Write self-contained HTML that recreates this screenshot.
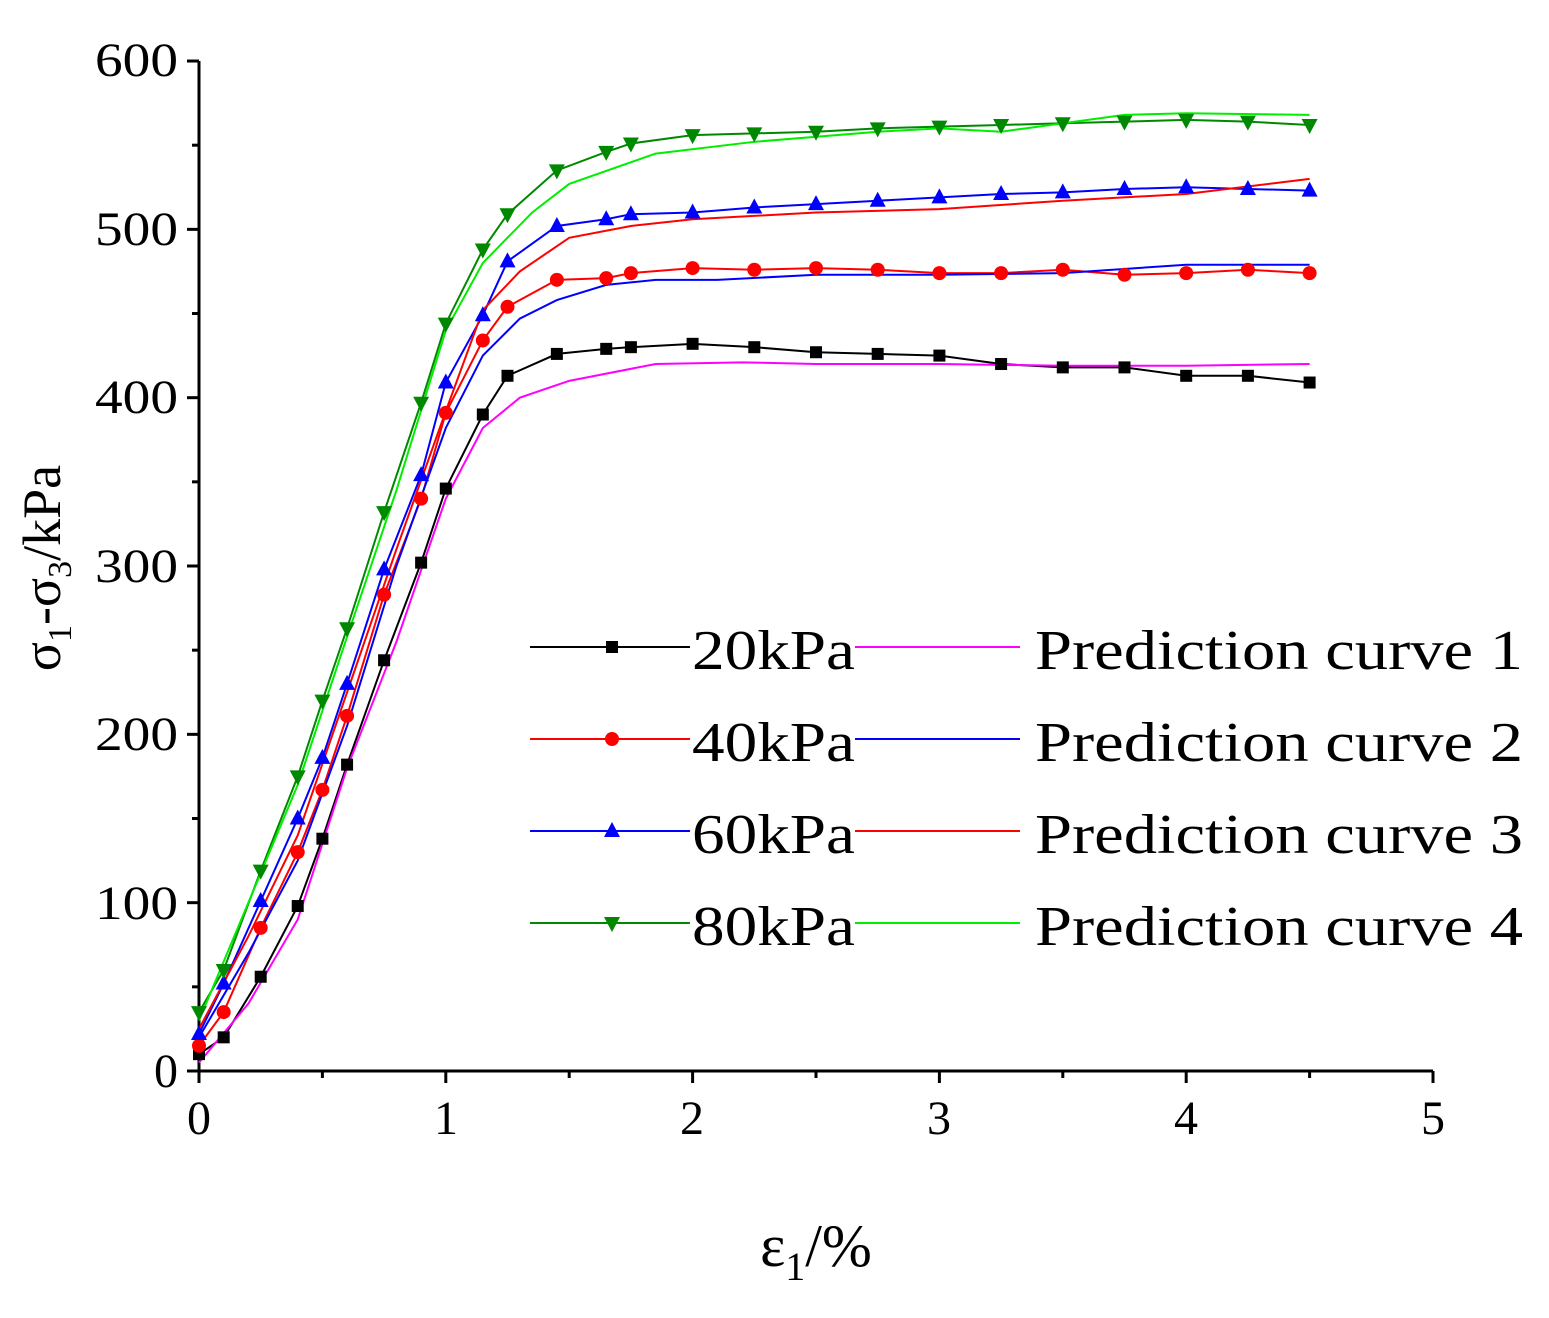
<!DOCTYPE html>
<html><head><meta charset="utf-8">
<style>
html,body{margin:0;padding:0;background:#fff;}
svg{display:block;font-family:"Liberation Serif",serif;}
</style></head>
<body>
<svg id="c" width="1549" height="1318" viewBox="0 0 1549 1318" xmlns="http://www.w3.org/2000/svg">
<g stroke="#000" stroke-width="3" fill="none">
<line x1="199" y1="61" x2="199" y2="1071"/>
<line x1="199" y1="1071" x2="1433" y2="1071"/>
</g>
<g id="ticks" stroke="#000" stroke-width="3"></g>
<g font-size="48" fill="#000" text-anchor="end">
<text x="178" y="1087">0</text>
<text x="178" y="919" textLength="83" lengthAdjust="spacingAndGlyphs">100</text>
<text x="178" y="750" textLength="83" lengthAdjust="spacingAndGlyphs">200</text>
<text x="178" y="582" textLength="83" lengthAdjust="spacingAndGlyphs">300</text>
<text x="178" y="413" textLength="83" lengthAdjust="spacingAndGlyphs">400</text>
<text x="178" y="245" textLength="83" lengthAdjust="spacingAndGlyphs">500</text>
<text x="178" y="76" textLength="83" lengthAdjust="spacingAndGlyphs">600</text>
</g>
<g font-size="48" fill="#000" text-anchor="middle">
<text x="199" y="1134">0</text>
<text x="446" y="1134">1</text>
<text x="692" y="1134">2</text>
<text x="939" y="1134">3</text>
<text x="1186" y="1134">4</text>
<text x="1433" y="1134">5</text>
</g>
<text x="816" y="1266" font-size="60" text-anchor="middle">ε<tspan font-size="40" dy="14">1</tspan><tspan dy="-14">/%</tspan></text>
<text transform="translate(60,568) rotate(-90)" font-size="54" text-anchor="middle">σ<tspan font-size="34" dy="11">1</tspan><tspan dy="-11">-σ</tspan><tspan font-size="34" dy="11">3</tspan><tspan dy="-11">/kPa</tspan></text>
<g id="series"></g>
<g id="legend" font-size="56" fill="#000"></g>
</svg>
<script>
var X=function(v){return 199+v*246.8},Y=function(v){return 1071-v*1.6833};
var ns="http://www.w3.org/2000/svg";
function el(p,t,a){var e=document.createElementNS(ns,t);for(var k in a)e.setAttribute(k,a[k]);p.appendChild(e);return e;}
var tk=document.getElementById('ticks');
for(var i=0;i<=5;i++){el(tk,'line',{x1:X(i),y1:1071,x2:X(i),y2:1083});if(i<5)el(tk,'line',{x1:X(i+.5),y1:1071,x2:X(i+.5),y2:1078});}
for(var v=0;v<=600;v+=50){el(tk,'line',{x1:199,y1:Y(v),x2:v%100?192:187,y2:Y(v)});}
var xs=[0,0.1,0.25,0.4,0.5,0.6,0.75,0.9,1.0,1.15,1.25,1.45,1.65,1.75,2,2.25,2.5,2.75,3,3.25,3.5,3.75,4,4.25,4.5];
var exp=[
{c:'#000',m:'sq',y:[10,20,56,98,138,182,244,302,346,390,413,426,429,430,432,430,427,426,425,420,418,418,413,413,409]},
{c:'#f00',m:'ci',y:[15,35,85,130,167,211,283,340,391,434,454,470,471,474,477,476,477,476,474,474,476,473,474,476,474]},
{c:'#00f',m:'tu',y:[22,52,101,150,186,230,298,354,409,449,481,502,506,509,510,513,515,517,519,521,522,524,525,524,523]},
{c:'#080',m:'td',y:[35,60,119,175,220,263,332,397,444,488,509,535,546,551,556,557,558,560,561,562,563,564,565,564,562]}];
var pred=[
{c:'#f0f',p:[[0,5],[0.2,40],[0.4,90],[0.6,180],[0.8,255],[1.0,340],[1.15,382],[1.3,400],[1.5,410],[1.85,420],[2.2,421],[2.5,420],[3,420],[3.5,419],[4,419],[4.5,420]]},
{c:'#00f',p:[[0,20],[0.2,70],[0.4,125],[0.6,205],[0.8,300],[1.0,382],[1.15,425],[1.3,447],[1.45,458],[1.65,467],[1.85,470],[2.1,470],[2.5,473],[3,473],[3.5,474],[4,479],[4.5,479]]},
{c:'#f00',p:[[0,25],[0.2,80],[0.4,140],[0.6,225],[0.8,310],[1.0,392],[1.15,452],[1.3,475],[1.5,495],[1.75,502],[2,506],[2.5,510],[3,512],[3.5,517],[4,521],[4.5,530]]},
{c:'#0e0',p:[[0,30],[0.2,100],[0.4,170],[0.6,258],[0.8,345],[1.0,440],[1.15,480],[1.35,510],[1.5,527],[1.85,545],[2.25,552],[2.75,558],[3,560],[3.25,558],[3.75,568],[4,569],[4.5,568]]}];
var g=document.getElementById('series');
function mark(p,m,c,x,y){
 if(m=='sq')el(p,'rect',{x:x-6,y:y-6,width:12,height:12,fill:c});
 else if(m=='ci')el(p,'circle',{cx:x,cy:y,r:7,fill:c});
 else if(m=='tu')el(p,'polygon',{points:(x-8)+','+(y+6)+' '+(x+8)+','+(y+6)+' '+x+','+(y-9),fill:c});
 else el(p,'polygon',{points:(x-8)+','+(y-6)+' '+(x+8)+','+(y-6)+' '+x+','+(y+9),fill:c});
}
exp.forEach(function(s){
 el(g,'polyline',{points:xs.map(function(x,i){return X(x)+','+Y(s.y[i])}).join(' '),fill:'none',stroke:s.c,'stroke-width':2});
});
pred.forEach(function(s){
 el(g,'polyline',{points:s.p.map(function(q){return X(q[0])+','+Y(q[1])}).join(' '),fill:'none',stroke:s.c,'stroke-width':2});
});
exp.forEach(function(s){xs.forEach(function(x,i){mark(g,s.m,s.c,X(x),Y(s.y[i]));});});
var lg=document.getElementById('legend');
var names=['20kPa','40kPa','60kPa','80kPa'];
for(var i=0;i<4;i++){
 var y=647+i*92;
 el(lg,'line',{x1:530,y1:y,x2:690,y2:y,stroke:exp[i].c,'stroke-width':2});
 mark(lg,exp[i].m,exp[i].c,612,y);
 var t=el(lg,'text',{x:692,y:y+22,textLength:163,lengthAdjust:'spacingAndGlyphs'});t.textContent=names[i];
 el(lg,'line',{x1:855,y1:y,x2:1020,y2:y,stroke:pred[i].c,'stroke-width':2});
 t=el(lg,'text',{x:1035,y:y+22,textLength:488,lengthAdjust:'spacingAndGlyphs'});t.textContent='Prediction curve '+(i+1);
}
</script>
</body></html>
